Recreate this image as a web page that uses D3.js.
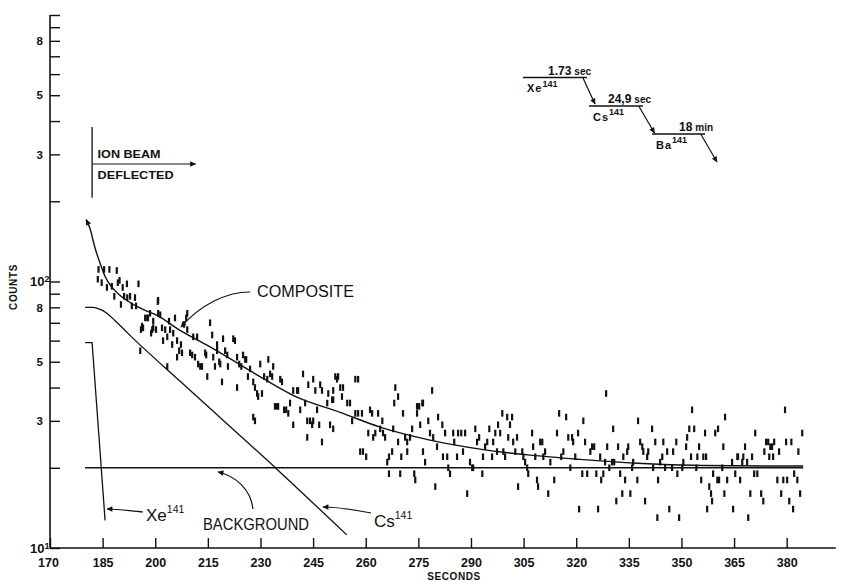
<!DOCTYPE html>
<html>
<head>
<meta charset="utf-8">
<script src="https://cdn.jsdelivr.net/npm/d3@7"></script>
<style>
  body { margin: 0; background: #fff; }
  svg text { font-family: "Liberation Sans", Arial, sans-serif; fill: #111; }
</style>
</head>
<body>
<div id="chart"></div>
<script>
// axis ticks
var secondTicks = [170, 185, 200, 215, 230, 245, 260, 275, 290, 305, 320, 335, 350, 365, 380];
var countTicks = [10, 20, 30, 40, 50, 60, 70, 80, 90, 100, 200, 300, 400, 500, 600, 700, 800, 900, 1000];
var countLabels = {30: "3", 50: "5", 80: "8", 300: "3", 500: "5", 800: "8"};
var decadeLabels = {10: "1", 100: "2"};

// fitted curves (seconds, counts)
var compositeSeconds = [180.3, 181.4, 182.8, 184.3, 185.7, 187.7, 190.0, 192.8, 196.5, 200.5, 207.1, 216.5, 230.7, 240.4, 252.7, 264.1, 278.3, 292.6, 306.9, 321.1, 337.4, 356.2, 375.3, 384.7];
var compositeCounts  = [170.7, 158, 134.1, 116.8, 104.4, 95, 88.6, 83.4, 78.6, 74.6, 65.5, 56, 43.3, 36.8, 32.3, 28.4, 25.4, 23.5, 22.3, 21.5, 20.8, 20.4, 20.3, 20.3];

var csSeconds = [180.0, 182.3, 184.3, 186.3, 188.5, 192.8, 207.1, 234.6, 254.6];
var csCounts  = [80, 80, 78.6, 75.9, 71.4, 62.8, 42.2, 19.8, 11.2];

var xeSeconds = [180.0, 182.0, 185.7];
var xeCounts  = [59, 59, 12.7];

var backgroundSeconds = [180.0, 384.7];
var backgroundCounts  = [20, 20];

// measured points (seconds, counts)
var countSamples = [
  [183.8,111],[183.6,102],[184.7,99],[185.4,111],[186.2,95],[186.9,111],[187.6,96],[188.3,88],[189.0,110],[189.3,99],
  [189.8,101],[190.2,82],[190.7,95],[191.1,88],[191.9,98],[192.0,87],[192.8,88],[193.3,81],[194.2,87],[194.5,81],
  [195.2,98],[200.7,84],
  [195.7,55],[195.9,66],[196.2,68],[196.5,67],[197.1,73],[197.7,73],[197.9,73],[198.5,76],[198.8,64],[199.1,66],
  [199.4,67],[199.4,71],[200.2,66],[200.8,85],[200.8,76],[201.4,75],[201.9,67],[202.2,60],[202.8,66],[203.4,62],
  [203.4,48],[203.9,71],[204.2,66],[204.8,58],[205.1,64],[205.6,73],[206.2,60],[206.2,52],[206.8,55],[207.3,58],
  [207.6,54],[208.2,69],[208.8,73],[209.1,76],[209.1,66],[209.9,54],[210.5,53],[210.8,62],[211.3,52],[211.9,62],
  [212.2,49],[212.8,48],[213.3,48],[214.2,54],[214.5,53],[214.8,44],[215.6,70],[216.2,63],[216.5,52],[217.0,48],
  [217.6,58],[217.6,55],[218.2,50],[218.5,49],[219.0,42],[219.3,61],[219.9,55],[220.5,53],[220.7,48],[222.2,61],
  [222.7,60],[223.3,52],[223.3,40],[223.9,49],[224.5,48],[225.0,53],[225.6,51],[225.9,51],[226.4,44],[227.0,47],
  [227.9,42],[228.4,40],[229.0,38],[229.3,37],[229.9,49],[230.4,38],[231.0,44],[231.9,43],[232.2,51],[232.7,45],
  [233.3,44],[233.6,48],[234.1,34],[234.7,34],[235.0,34],[235.6,43],[236.1,42],[236.7,33],[237.3,33],[237.9,32],
  [238.4,35],[239.3,39],[240.4,39],[240.7,39],[241.3,33],[242.1,45],[242.7,35],[243.6,41],[244.1,30],[245.0,43],
  [245.6,39],[246.1,33],[247.0,41],[247.5,39],[249.0,35],[249.3,38],[250.4,36],[250.7,36],[251.3,44],[251.8,43],
  [252.1,44],[227.9,31],[228.4,30],[239.3,29],[243.3,30],[244.7,29],[245.0,30],[246.7,29],
  [243.3,26],[247.5,25],[249.8,29],[250.7,28],
  [250.7,39],[252.7,40],[253.5,40],[253.2,37],[254.7,35],[255.5,35],[256.1,30],[257.0,43],[257.8,43],[257.0,32],
  [257.8,32],[258.9,32],[258.4,23],[259.2,23],[260.1,22],[260.7,27],[261.2,33],[261.8,32],[262.1,26],[262.7,27],
  [263.5,32],[264.1,28],[264.7,30],[264.9,27],[265.5,26],[266.1,21],[266.6,22],[266.6,19],[267.5,23],[267.8,28],
  [268.1,35],[268.4,40],[269.2,37],[269.2,25],[269.8,19],[270.1,22],[270.6,32],[271.2,26],[271.8,25],[271.8,23],
  [272.6,26],[273.2,28],[273.8,19],[274.1,18],[274.6,34],[275.2,34],[276.1,35],[276.3,35],[274.6,32],[275.5,29],
  [276.3,23],[276.9,21],[277.8,30],[278.3,27],[278.9,39],[279.2,26],[279.8,17],[280.3,24],[280.6,31],[281.8,29],
  [282.0,22],[282.6,27],[283.5,20],[283.2,22],[284.0,19],[284.9,27],[285.2,25],[286.0,22],[286.3,27],[287.2,27],
  [287.7,23],[288.3,27],[288.9,16],[289.7,21],[290.3,20],[290.6,20],[291.2,28],[291.7,25],[292.3,26],[293.2,19],
  [293.4,22],[294.0,24],[294.6,25],[295.2,28],[296.0,22],[296.3,25],[296.9,27],[297.4,23],[297.7,29],[298.3,27],
  [298.9,32],[299.2,23],[299.7,22],[300.3,31],[300.6,26],[301.1,29],[301.7,31],[302.0,25],[302.6,23],[303.1,26],
  [303.4,17],[304.6,23],[304.9,22],[305.4,21],[306.0,20],[306.3,19],[307.4,27],[307.7,24],[308.3,22],[308.8,18],
  [309.1,17],[309.7,25],[310.3,25],[310.6,22],[311.1,23],[312.0,16],[312.6,21],[313.7,18],[314.5,27],[315.1,32],
  [315.7,22],[316.3,23],[317.1,31],[317.7,26],[318.8,26],[318.3,20],[319.7,22],[320.5,27],
  [319.1,25],[322.0,30],[322.5,25],[321.7,19],[323.1,19],[320.8,14],[324.0,23],[324.5,24],[325.1,24],[325.7,19],
  [326.2,14],[326.8,22],[327.1,18],[327.7,19],[328.2,21],[328.5,38],[328.8,24],[329.4,20],[330.2,21],[330.5,28],
  [330.8,21],[331.4,15],[331.9,24],[332.5,19],[333.1,16],[333.4,22],[333.9,18],[334.5,23],[334.8,24],[335.4,16],
  [335.9,20],[336.2,21],[337.4,18],[337.6,30],[338.2,25],[338.8,24],[339.1,23],[339.6,15],[340.2,22],[340.5,23],
  [341.6,28],[341.9,20],[342.5,25],[343.1,13],[343.3,18],[343.9,21],[344.5,22],[344.8,25],[345.3,20],[345.9,23],
  [346.5,14],[347.3,20],[347.6,23],[348.5,25],[348.8,19],[349.3,13],[350.2,20],[350.5,21],[351.3,24],[351.6,26],
  [352.2,28],[352.7,22],[353.0,33],[353.6,28],[354.2,20],[354.5,22],[355.0,24],[355.6,18],[356.2,22],[356.7,27],
  [357.0,22],[357.3,14],[357.9,17],[358.4,16],[358.7,15],[359.0,19],[359.6,27],[360.2,18],[360.4,28],[360.7,18],
  [361.6,20],[361.9,24],[362.2,16],[362.4,31],[363.0,18],[364.7,14],[364.4,21],[365.3,19],[365.9,22],[366.1,22],
  [366.7,18],[367.3,21],[367.6,22],[368.1,24],[368.7,21],[369.0,13],[369.6,16],[370.1,22],[370.7,19],[371.6,19],
  [371.0,27],[372.7,16],[373.3,15],[373.6,23],[374.1,25],[374.7,25],[375.3,24],[375.8,24],[376.4,25],[375.0,22],
  [376.1,22],[377.3,18],[377.8,23],[378.4,16],[379.0,18],[379.5,33],[379.8,25],[380.1,18],[380.7,15],[381.3,25],
  [381.8,14],[382.1,19],[383.0,18],[383.3,23],[383.8,16],[384.4,27]
];

// decay chain inset
var decayNuclides = ["Xe", "Cs", "Ba"];
var decayMass = "141";
var decayHalfLives = ["1.73", "24,9", "18"];
var decayUnits = ["sec", "sec", "min"];

function init() {
    var w = 841;
    var h = 581;
    var ink = "#111";

    var svg = d3.select("#chart")
        .append("svg")
        .attr("width", w)
        .attr("height", h);

    var defs = svg.append("defs");
    defs.append("marker")
        .attr("id", "arrow")
        .attr("viewBox", "0 0 10 10")
        .attr("refX", 9).attr("refY", 5)
        .attr("markerWidth", 9).attr("markerHeight", 6)
        .attr("markerUnits", "userSpaceOnUse")
        .attr("orient", "auto-start-reverse")
        .append("path")
        .attr("d", "M0,0.5 L10,5 L0,9.5 Z")
        .attr("fill", ink);

    var xScale = d3.scaleLinear().domain([170, 380]).range([50, 786.7]);
    var yScale = d3.scaleLog().domain([10, 1000]).range([548, 15]);

    // x axis
    var xAxis = d3.axisBottom(xScale)
        .tickValues(secondTicks)
        .tickSize(-10)
        .tickSizeOuter(0)
        .tickPadding(10)
        .tickFormat(d3.format("d"));
    var gx = svg.append("g")
        .attr("transform", "translate(0," + yScale(10) + ")")
        .call(xAxis);
    gx.select(".domain").remove();
    gx.selectAll("line").attr("stroke", ink).attr("stroke-width", 1.4);
    gx.selectAll("text").attr("font-size", 12.5).attr("font-weight", "bold");
    gx.selectAll(".tick").filter(d => d === 170).select("text").attr("x", -2);

    svg.append("line")
        .attr("x1", xScale(170)).attr("x2", xScale(394))
        .attr("y1", yScale(10)).attr("y2", yScale(10))
        .attr("stroke", ink).attr("stroke-width", 1.6);

    // y axis
    var yAxis = d3.axisLeft(yScale)
        .tickValues(countTicks)
        .tickSize(-10)
        .tickSizeOuter(0)
        .tickPadding(7)
        .tickFormat(d => countLabels[d] || "");
    var gy = svg.append("g")
        .attr("transform", "translate(" + xScale(170) + ",0)")
        .call(yAxis);
    gy.select(".domain").remove();
    gy.selectAll("line").attr("stroke", ink).attr("stroke-width", 1.4);
    gy.selectAll("text").attr("font-size", 11.5).attr("font-weight", "bold");
    gy.selectAll(".tick").filter(d => decadeLabels[d]).select("text")
        .attr("x", -0.5)
        .attr("font-size", 13)
        .attr("font-weight", "bold")
        .text("10")
        .append("tspan")
        .attr("dy", "-0.45em")
        .attr("font-size", 9)
        .text(d => decadeLabels[d]);

    svg.append("line")
        .attr("x1", xScale(170)).attr("x2", xScale(170))
        .attr("y1", yScale(10)).attr("y2", yScale(1000))
        .attr("stroke", ink).attr("stroke-width", 1.6);

    // axis titles
    svg.append("text")
        .attr("transform", "translate(17,287) rotate(-90)")
        .attr("text-anchor", "middle")
        .attr("font-size", 10)
        .attr("font-weight", "bold")
        .attr("letter-spacing", 0.6)
        .text("COUNTS");

    svg.append("text")
        .attr("x", 454).attr("y", 580)
        .attr("text-anchor", "middle")
        .attr("font-size", 10)
        .attr("font-weight", "bold")
        .attr("letter-spacing", 0.6)
        .text("SECONDS");

    // data points as short vertical dashes
    svg.append("g")
        .selectAll("rect")
        .data(countSamples)
        .enter()
        .append("rect")
        .attr("x", d => xScale(d[0]) - 1)
        .attr("y", d => yScale(d[1]) - 3.3)
        .attr("width", 2.2)
        .attr("height", 6.6)
        .attr("fill", ink);

    // curves
    function pairs(ts, cs) { return ts.map((t, i) => [t, cs[i]]); }
    var smooth = d3.line().x(d => xScale(d[0])).y(d => yScale(d[1])).curve(d3.curveMonotoneX);
    var straight = d3.line().x(d => xScale(d[0])).y(d => yScale(d[1]));

    svg.append("path")
        .attr("d", straight(pairs(backgroundSeconds, backgroundCounts)))
        .attr("fill", "none").attr("stroke", ink).attr("stroke-width", 1.4);
    svg.append("path")
        .attr("d", straight(pairs(xeSeconds, xeCounts)))
        .attr("fill", "none").attr("stroke", ink).attr("stroke-width", 1.3);
    svg.append("path")
        .attr("d", smooth(pairs(csSeconds, csCounts)))
        .attr("fill", "none").attr("stroke", ink).attr("stroke-width", 1.3);
    svg.append("path")
        .attr("d", smooth(pairs(compositeSeconds, compositeCounts)))
        .attr("fill", "none").attr("stroke", ink).attr("stroke-width", 1.4)
        .attr("marker-start", "url(#arrow)");

    // annotations
    function arrow(d) {
        svg.append("path").attr("d", d)
            .attr("fill", "none").attr("stroke", ink).attr("stroke-width", 1.2)
            .attr("marker-end", "url(#arrow)");
    }

    var beamX = xScale(182);
    var beamY = yScale(276);
    svg.append("line")
        .attr("x1", beamX).attr("x2", beamX)
        .attr("y1", yScale(380)).attr("y2", yScale(206))
        .attr("stroke", ink).attr("stroke-width", 1.3);
    arrow("M" + beamX + "," + beamY + "H" + xScale(211.5));
    svg.append("text").attr("x", beamX + 5.5).attr("y", beamY - 6)
        .attr("font-size", 11).attr("font-weight", "bold")
        .attr("textLength", 63).attr("lengthAdjust", "spacingAndGlyphs")
        .text("ION BEAM");
    svg.append("text").attr("x", beamX + 5.5).attr("y", beamY + 15)
        .attr("font-size", 11).attr("font-weight", "bold")
        .attr("textLength", 76).attr("lengthAdjust", "spacingAndGlyphs")
        .text("DEFLECTED");

    svg.append("text").attr("x", 257).attr("y", 297)
        .attr("font-size", 16)
        .attr("textLength", 97).attr("lengthAdjust", "spacingAndGlyphs")
        .text("COMPOSITE");
    arrow("M250,292 C226,292 200,305 181,327");

    svg.append("text").attr("x", 203).attr("y", 530)
        .attr("font-size", 17)
        .attr("textLength", 106).attr("lengthAdjust", "spacingAndGlyphs")
        .text("BACKGROUND");
    arrow("M253,509 C251,490 236,476 218,472");

    var xeLabel = svg.append("text").attr("x", 146).attr("y", 521).attr("font-size", 17).text("Xe");
    xeLabel.append("tspan").attr("dy", -8).attr("font-size", 10.5).text("141");
    arrow("M143,512 C130,511 120,509 107,509");

    var csLabel = svg.append("text").attr("x", 374).attr("y", 527).attr("font-size", 17).text("Cs");
    csLabel.append("tspan").attr("dy", -8).attr("font-size", 10.5).text("141");
    arrow("M371,513 C355,510 340,507 323,507");

    // decay scheme
    var levelLayout = [
        {x1: 523, x2: 587, y: 77.5, hx: 548, tip: [595, 104]},
        {x1: 589, x2: 643, y: 106, hx: 608, tip: [654.5, 133]},
        {x1: 652, x2: 705, y: 134, hx: 679, tip: [717, 162]}
    ];
    levelLayout.forEach(function(l, i) {
        svg.append("line")
            .attr("x1", l.x1).attr("x2", l.x2).attr("y1", l.y).attr("y2", l.y)
            .attr("stroke", ink).attr("stroke-width", 1.3);
        arrow("M" + (l.x2 - 4) + "," + (l.y + 0.5) + "L" + l.tip[0] + "," + l.tip[1]);
        var hl = svg.append("text").attr("x", l.hx).attr("y", l.y - 3)
            .attr("font-size", 12).attr("font-weight", "bold")
            .text(decayHalfLives[i]);
        hl.append("tspan").attr("dx", 3).attr("font-size", 10).text(decayUnits[i]);
        var nl = svg.append("text").attr("x", l.x1 + 4).attr("y", l.y + 14.5)
            .attr("font-size", 11).attr("font-weight", "bold")
            .attr("letter-spacing", 1)
            .text(decayNuclides[i]);
        nl.append("tspan").attr("dy", -5.5).attr("font-size", 9).attr("letter-spacing", 0).text(decayMass);
    });
}

window.onload = init;
</script>
</body>
</html>
